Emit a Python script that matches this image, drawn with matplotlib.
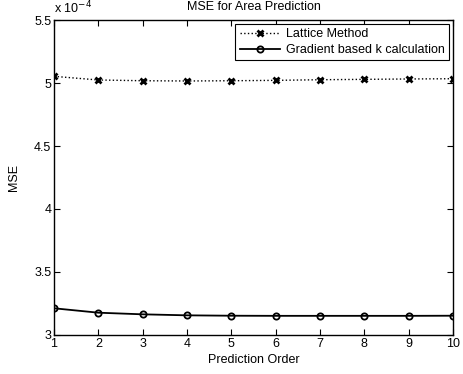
import numpy as np
import matplotlib
matplotlib.use("Agg")
import matplotlib.pyplot as plt

plt.rcParams['font.family'] = ['Liberation Sans', 'DejaVu Sans']

# prediction order and MSE values (units of 1e-4)
order = np.arange(1, 11)
lattice = [5.053, 5.024, 5.018, 5.016, 5.018, 5.021, 5.026, 5.029, 5.032, 5.034]
gradient = [3.212, 3.177, 3.164, 3.156, 3.153, 3.152, 3.152, 3.152, 3.152, 3.153]

fig = plt.figure(figsize=(4.63, 3.74), dpi=100, facecolor='white')
ax = fig.add_axes([0.1166, 0.1043, 0.8618, 0.8422])

ax.plot(order, lattice, linestyle=':', color='black', marker='x', markersize=4.5,
        markeredgewidth=2, linewidth=1, label='Lattice Method')
ax.plot(order, gradient, linestyle='-', color='black', marker='o', markersize=4.5,
        markerfacecolor='none', markeredgewidth=1.3, linewidth=1.3,
        label='Gradient based k calculation')

ax.set_xlim(1, 10)
ax.set_ylim(3, 5.5)
ax.set_xticks(order)
ax.set_yticks([3, 3.5, 4, 4.5, 5, 5.5])
ax.set_yticklabels(['3', '3.5', '4', '4.5', '5', '5.5'])
ax.tick_params(direction='in', top=True, right=True, labelsize=9, length=4, width=0.8, pad=2)
for s in ax.spines.values():
    s.set_linewidth(1)

ax.set_title('MSE for Area Prediction', fontsize=9, pad=7)
ax.set_xlabel('Prediction Order', fontsize=9, labelpad=3)
ax.set_ylabel('MSE', fontsize=9, labelpad=10)
ax.text(0.0, 1.012, r'x 10$^{-4}$', transform=ax.transAxes, fontsize=9,
        ha='left', va='bottom')

leg = ax.legend(loc='upper right', fontsize=9, frameon=True, fancybox=False,
                edgecolor='black', framealpha=1, borderaxespad=0.3,
                handlelength=3.2, handletextpad=0.5, borderpad=0.35, labelspacing=0.3)
leg.get_frame().set_linewidth(0.8)

fig.savefig('out.png', dpi=100)
